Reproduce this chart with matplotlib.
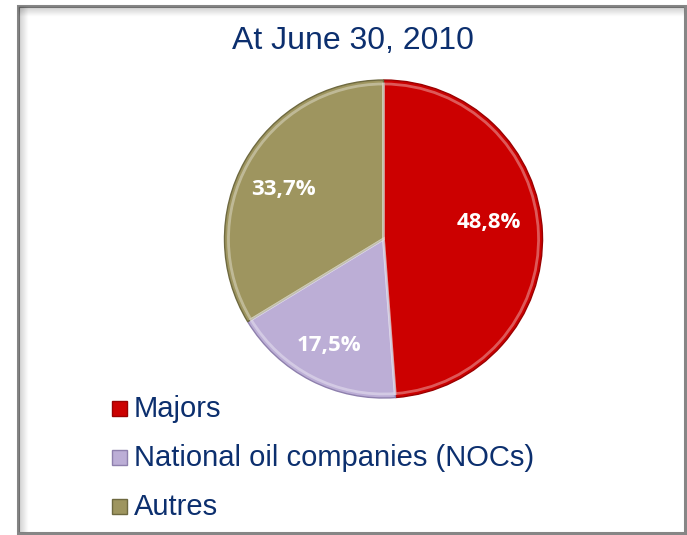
import numpy as np
import matplotlib
matplotlib.use("Agg")
import matplotlib.pyplot as plt
from matplotlib.patches import Rectangle
from matplotlib.lines import Line2D

# ---- data ----
title = "At June 30, 2010"
categories = ["Majors", "National oil companies (NOCs)", "Autres"]
values = [48.8, 17.5, 33.7]
colors = ["#cc0000", "#bcaed6", "#9e955f"]
edge_colors = ["#9a0000", "#8e80ad", "#6e6940"]

W, H = 687, 535
fig = plt.figure(figsize=(W / 100, H / 100), dpi=100)
fig.patch.set_facecolor("white")

def fx(x):
    return x / W

def fy(y):
    return 1 - y / H

# ---- frame with inner shadow ----
for i, a in enumerate(np.linspace(0.22, 0.0, 10)):
    fig.add_artist(Line2D([fx(19), fx(683)], [fy(7 + i), fy(7 + i)],
                          transform=fig.transFigure, color="black", alpha=a * 0.6, lw=1))
    fig.add_artist(Line2D([fx(19 + i), fx(19 + i)], [fy(7), fy(531)],
                          transform=fig.transFigure, color="black", alpha=a * 0.6, lw=1))
fig.add_artist(Rectangle((fx(17.5), fy(532.5)), fx(684.5) - fx(17.5), fy(5.5) - fy(532.5),
                         transform=fig.transFigure, fill=False, edgecolor="#868686", lw=2.2))

# ---- title ----
fig.text(fx(352.5), fy(41), title, ha="center", va="center",
         fontsize=23, color="#0c2f6e", family="Liberation Sans")

# ---- pie ----
cx, cy, r = 383.5, 239, 159
ax = fig.add_axes([fx(cx - r), fy(cy + r), 2 * r / W, 2 * r / H])
wedges, texts, autotexts = ax.pie(
    values, colors=colors, startangle=90, counterclock=False, radius=1,
    autopct=lambda p: f"{p:.1f}%".replace(".", ","), pctdistance=0.7,
    wedgeprops=dict(linewidth=1.0),
    textprops=dict(color="white", fontsize=16, fontweight="bold", family="Open Sans"))
for w, ec in zip(wedges, edge_colors):
    w.set_edgecolor(ec)
# subtle inner bevel highlight
hl, _ = ax.pie(values, startangle=90, counterclock=False, radius=0.975,
               wedgeprops=dict(linewidth=2.0))
for h in hl:
    h.set_facecolor("none")
    h.set_edgecolor((1, 1, 1, 0.35))
ax.set_xlim(-1, 1)
ax.set_ylim(-1, 1)
ax.set_aspect("auto")
ax.axis("off")

# label placement (radius, angle offset in degrees)
label_layout = [(0.67, 7.0), (0.75, 0.0), (0.70, 3.0)]
for w, t, (lr, dang) in zip(wedges, autotexts, label_layout):
    mid = np.deg2rad((w.theta1 + w.theta2) / 2 + dang)
    t.set_position((lr * np.cos(mid), lr * np.sin(mid)))
    t.set_ha("center")
    t.set_va("center")
    t.set_zorder(5)

# ---- legend ----
legend_y = [408, 457, 506]
for cat, col, ec, y in zip(categories, colors, edge_colors, legend_y):
    fig.add_artist(Rectangle((fx(112), fy(y + 7.5)), 15 / W, 15 / H,
                             transform=fig.transFigure, facecolor=col,
                             edgecolor=ec, lw=1))
    fig.text(fx(134), fy(y + 1), cat, ha="left", va="center",
             fontsize=21, color="#0c2f6e", family="Liberation Sans")

fig.savefig("out.png", dpi=100, facecolor="white")
